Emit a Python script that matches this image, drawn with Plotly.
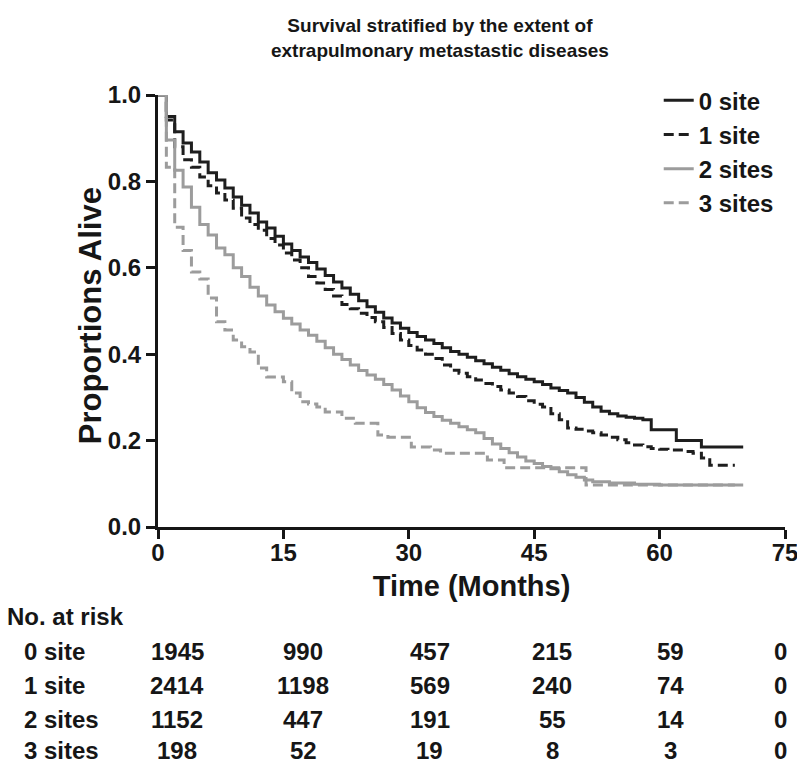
import plotly.graph_objects as go

# ---- data ----
t0 = [0, 1, 2, 3, 4, 5, 6, 7, 8, 9, 10, 11, 12, 13, 14, 15, 16, 17, 18, 19, 20,
      21, 22, 23, 24, 25, 26, 27, 28, 29, 30, 31, 32, 33, 34, 35, 36, 37, 38, 39,
      40, 41, 42, 43, 44, 45, 46, 47, 48, 49, 50, 51, 52, 53, 54, 55, 56, 57, 58,
      59, 62, 65, 70]
s0 = [1.0, 0.95, 0.915, 0.889, 0.868, 0.845, 0.82, 0.803, 0.785, 0.764, 0.745,
      0.727, 0.706, 0.692, 0.673, 0.655, 0.64, 0.625, 0.612, 0.597, 0.582, 0.567,
      0.553, 0.539, 0.524, 0.51, 0.497, 0.484, 0.472, 0.46, 0.45, 0.441, 0.433,
      0.425, 0.415, 0.406, 0.4, 0.393, 0.385, 0.378, 0.37, 0.363, 0.355, 0.348,
      0.342, 0.336, 0.33, 0.322, 0.316, 0.31, 0.30, 0.289, 0.278, 0.268, 0.262,
      0.257, 0.254, 0.252, 0.248, 0.225, 0.20, 0.185, 0.185]

t1 = [0, 1, 2, 3, 4, 5, 6, 7, 8, 9, 10, 11, 12, 13, 14, 15, 16, 17, 18, 19, 20,
      21, 22, 23, 24, 25, 26, 27, 28, 29, 30, 31, 32, 33, 34, 35, 36, 37, 38, 39,
      40, 41, 42, 43, 44, 45, 46, 47, 48, 49, 50, 51, 52, 53, 54, 55, 56, 57, 58,
      59, 60, 61, 63, 64, 65, 66, 69]
s1 = [1.0, 0.942, 0.88, 0.85, 0.833, 0.81, 0.79, 0.773, 0.757, 0.738, 0.715,
      0.70, 0.687, 0.668, 0.653, 0.634, 0.618, 0.60, 0.58, 0.565, 0.55, 0.535,
      0.515, 0.505, 0.495, 0.485, 0.475, 0.462, 0.448, 0.433, 0.42, 0.41, 0.40,
      0.39, 0.375, 0.363, 0.356, 0.348, 0.34, 0.332, 0.325, 0.317, 0.31, 0.302,
      0.292, 0.284, 0.278, 0.262, 0.248, 0.229, 0.226, 0.222, 0.218, 0.213,
      0.208, 0.202, 0.195, 0.19, 0.186, 0.182, 0.18, 0.178, 0.175, 0.171, 0.16,
      0.143, 0.143]

t2 = [0, 1, 2, 3, 4, 5, 6, 7, 8, 9, 10, 11, 12, 13, 14, 15, 16, 17, 18, 19, 20,
      21, 22, 23, 24, 25, 26, 27, 28, 29, 30, 31, 32, 33, 34, 35, 36, 37, 38, 39,
      40, 41, 42, 43, 44, 45, 46, 47, 48, 49, 50, 51, 52, 54, 57, 60, 70]
s2 = [1.0, 0.896, 0.826, 0.787, 0.74, 0.70, 0.676, 0.646, 0.63, 0.60, 0.58,
      0.555, 0.535, 0.514, 0.498, 0.483, 0.47, 0.456, 0.444, 0.43, 0.415, 0.40,
      0.388, 0.375, 0.362, 0.352, 0.342, 0.33, 0.317, 0.303, 0.29, 0.276, 0.265,
      0.256, 0.247, 0.24, 0.232, 0.225, 0.218, 0.205, 0.192, 0.182, 0.172, 0.162,
      0.153, 0.147, 0.14, 0.135, 0.128, 0.121, 0.115, 0.109, 0.105, 0.102, 0.099,
      0.097, 0.097]

t3 = [0, 1, 2, 3, 4, 5, 6, 7, 8, 9, 10, 11, 12, 13, 15, 16, 17, 18, 19, 20, 22,
      23.6, 26.3, 27.5, 30.3, 32.6, 33.8, 39.4, 41.4, 51.2, 69]
s3 = [1.0, 0.833, 0.694, 0.64, 0.59, 0.574, 0.53, 0.475, 0.456, 0.433, 0.417,
      0.405, 0.368, 0.347, 0.336, 0.31, 0.29, 0.285, 0.278, 0.266, 0.252, 0.24,
      0.213, 0.208, 0.185, 0.178, 0.171, 0.155, 0.137, 0.097, 0.097]

groups = ["0 site", "1 site", "2 sites", "3 sites"]
risk_times = [0, 15, 30, 45, 60, 75]
at_risk = [
    [1945, 990, 457, 215, 59, 0],
    [2414, 1198, 569, 240, 74, 0],
    [1152, 447, 191, 55, 14, 0],
    [198, 52, 19, 8, 3, 0],
]
x_ticks = [0, 15, 30, 45, 60, 75]
y_ticks = [0.0, 0.2, 0.4, 0.6, 0.8, 1.0]

# ---- styles ----
FONT = "Liberation Sans, Arial, Helvetica, sans-serif"
INK = "#161616"
DARK = "#1e1e1e"
GREY = "#9c9c9c"
styles = [(DARK, "solid"), (DARK, "10px,5px"), (GREY, "solid"), (GREY, "10px,5px")]


def bold(size):
    return dict(family=FONT, size=size, color=INK, weight="bold")


fig = go.Figure()
for (tt, ss), name, (col, dash) in zip([(t0, s0), (t1, s1), (t2, s2), (t3, s3)], groups, styles):
    fig.add_trace(go.Scatter(
        x=tt, y=ss, mode="lines", name=name,
        line=dict(color=col, width=3, dash=dash, shape="hv"),
    ))

annotations = []
# y-axis title as rotated text
annotations.append(dict(text="Proportions Alive", xref="paper", yref="paper",
                        x=-0.1085, y=0.49, xanchor="center", yanchor="middle",
                        textangle=-90, showarrow=False, font=bold(31)))
# risk table (paper y relative to a 432 px tall plot area)
col_shift = [19, 20, 21, 18, 11, -5]
row_y = [-0.289, -0.3665, -0.445, -0.5185]
annotations.append(dict(text="No. at risk", xref="paper", yref="paper",
                        x=-0.244, y=-0.208, xanchor="left", yanchor="middle",
                        showarrow=False, font=bold(24)))
for g, row, yy in zip(groups, at_risk, row_y):
    annotations.append(dict(text=g, xref="paper", yref="paper", x=-0.217, y=yy,
                            xanchor="left", yanchor="middle", showarrow=False,
                            font=bold(24)))
    for tx, v, sh in zip(risk_times, row, col_shift):
        annotations.append(dict(text=str(v), xref="x", yref="paper", x=tx, y=yy,
                                xshift=sh, xanchor="center", yanchor="middle",
                                showarrow=False, font=bold(24)))

fig.update_layout(
    width=797, height=764,
    margin=dict(l=158, r=12, t=95, b=237, autoexpand=False),
    paper_bgcolor="white", plot_bgcolor="white",
    font=bold(20),
    title=dict(text="Survival stratified by the extent of<br>extrapulmonary metastastic diseases",
               x=0.552, xanchor="center", xref="container",
               y=1 - 32 / 764, yanchor="middle", yref="container",
               font=bold(19)),
    showlegend=True,
    legend=dict(x=0.99, y=1.039, xanchor="right", yanchor="top",
                bgcolor="rgba(0,0,0,0)", font=bold(24),
                itemwidth=30, tracegroupgap=0),
    annotations=annotations,
)
fig.update_xaxes(range=[0, 75], tickvals=x_ticks, ticktext=[str(v) for v in x_ticks],
                 showline=True, linecolor=INK, linewidth=3, ticks="outside",
                 ticklen=9, tickwidth=3, tickcolor=INK, showgrid=False, zeroline=False,
                 tickfont=bold(24), ticklabeloverflow="allow", ticklabelstandoff=-7,
                 automargin=False,
                 title=dict(text="Time (Months)", standoff=11, font=bold(29)))
fig.update_yaxes(range=[0, 1], tickvals=y_ticks, ticktext=[f"{v:.1f}" for v in y_ticks],
                 showline=True, linecolor=INK, linewidth=3, ticks="outside",
                 ticklen=9, tickwidth=3, tickcolor=INK, showgrid=False, zeroline=False,
                 tickfont=bold(24), automargin=False)
fig.write_html("out.html", config={"displayModeBar": False},
               post_script="document.body.style.margin='0';")
